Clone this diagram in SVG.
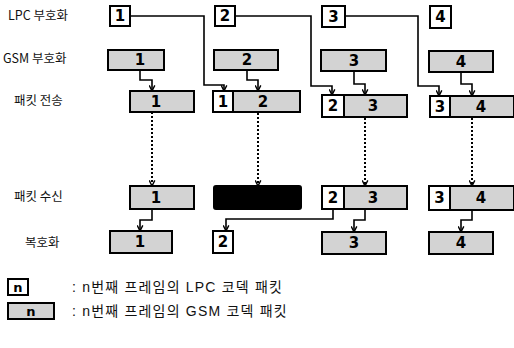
<svg xmlns="http://www.w3.org/2000/svg" width="514" height="348" viewBox="0 0 514 348">
<defs>
<style>
.lbl{font-family:"Noto Sans CJK KR","Liberation Sans",sans-serif;font-size:12.5px;fill:#111;}
.leg{font-family:"Liberation Sans","Noto Sans CJK KR",sans-serif;font-size:14px;letter-spacing:1.2px;fill:#111;}
.num{font-family:"DejaVu Sans","Liberation Sans",sans-serif;font-weight:bold;font-size:15px;fill:#000;text-anchor:middle;dominant-baseline:central;}
.lpc{fill:#fff;stroke:#000;stroke-width:2;}
.gsm{fill:#d3d3d3;stroke:#000;stroke-width:2;}
.lost{fill:#000;stroke:#000;stroke-width:2;}
.c{fill:none;stroke:#000;stroke-width:1.6;marker-end:url(#ah);}
.d{fill:none;stroke:#000;stroke-width:2;stroke-dasharray:2 2;marker-end:url(#ah);}
</style>
<marker id="ah" viewBox="0 0 10 10" refX="9" refY="5" markerWidth="7" markerHeight="7" orient="auto" markerUnits="userSpaceOnUse">
<path d="M1,1 L9,5 L1,9" fill="none" stroke="#000" stroke-width="2"/>
</marker>
</defs>

<g id="labels">
<text class="lbl" x="8" y="20">LPC 부호화</text>
<text class="lbl" x="3" y="63">GSM 부호화</text>
<text class="lbl" x="14" y="105">패킷 전송</text>
<text class="lbl" x="14" y="201">패킷 수신</text>
<text class="lbl" x="25" y="247">복호화</text>
</g>

<g id="connectors">
<path class="c" d="M140,70 V80 H152 V91"/>
<path class="c" d="M130,16 H204 V85 H224 V91"/>
<path class="c" d="M247,70 V80 H258 V91"/>
<path class="c" d="M235,16 H311 V86 H332 V95"/>
<path class="c" d="M354,71 V84 H365 V95"/>
<path class="c" d="M345,16 H418 V86 H439 V96"/>
<path class="c" d="M461,72 V84 H472 V96"/>
<path class="d" d="M152,112 V186"/>
<path class="d" d="M258,113 V186"/>
<path class="d" d="M365,118 V186"/>
<path class="d" d="M472,118 V186"/>
<path class="c" d="M152,209 V220 H140 V231"/>
<path class="c" d="M333,209 V219 H226 V231"/>
<path class="c" d="M365,209 V220 H354 V232"/>
<path class="c" d="M472,210 V220 H461 V232"/>
</g>

<g id="lpc1"><rect class="lpc" x="110" y="6" width="20" height="20"/><text class="num" x="120" y="16">1</text></g>
<g id="lpc2"><rect class="lpc" x="215" y="6" width="20" height="20"/><text class="num" x="225" y="16">2</text></g>
<g id="lpc3"><rect class="lpc" x="322" y="6" width="23" height="21"/><text class="num" x="333.5" y="16.5">3</text></g>
<g id="lpc4"><rect class="lpc" x="430" y="6" width="21" height="22"/><text class="num" x="440.5" y="17">4</text></g>

<g id="gsm1"><rect class="gsm" x="108" y="50" width="56" height="20"/><text class="num" x="140" y="60">1</text></g>
<g id="gsm2"><rect class="gsm" x="214" y="50" width="64" height="20"/><text class="num" x="247" y="60">2</text></g>
<g id="gsm3"><rect class="gsm" x="321" y="50" width="65" height="21"/><text class="num" x="354" y="60.5">3</text></g>
<g id="gsm4"><rect class="gsm" x="429" y="51" width="64" height="21"/><text class="num" x="461" y="61.5">4</text></g>

<g id="tx1"><rect class="gsm" x="130" y="91" width="64" height="21"/><text class="num" x="156" y="101.5">1</text></g>
<g id="tx2"><rect class="gsm" x="233" y="91" width="67" height="21"/><rect class="lpc" x="213" y="91" width="20" height="21"/><text class="num" x="223" y="101.5">1</text><text class="num" x="263" y="101.5">2</text></g>
<g id="tx3"><rect class="gsm" x="344" y="95" width="63" height="22"/><rect class="lpc" x="322" y="95" width="22" height="22"/><text class="num" x="333" y="106">2</text><text class="num" x="373" y="106">3</text></g>
<g id="tx4"><rect class="gsm" x="450" y="96" width="64" height="21"/><rect class="lpc" x="430" y="96" width="20" height="21"/><text class="num" x="440" y="106.5">3</text><text class="num" x="481" y="106.5">4</text></g>

<g id="rx1"><rect class="gsm" x="130" y="186" width="64" height="23"/><text class="num" x="156" y="197.5">1</text></g>
<g id="rx2"><rect class="lost" x="214" y="186" width="87" height="23" rx="2"/></g>
<g id="rx3"><rect class="gsm" x="344" y="186" width="63" height="23"/><rect class="lpc" x="322" y="186" width="22" height="23"/><text class="num" x="333" y="197.5">2</text><text class="num" x="373" y="197.5">3</text></g>
<g id="rx4"><rect class="gsm" x="450" y="186" width="64" height="24"/><rect class="lpc" x="429" y="186" width="21" height="24"/><text class="num" x="439.5" y="198">3</text><text class="num" x="481" y="198">4</text></g>

<g id="dec1"><rect class="gsm" x="110" y="231" width="62" height="22"/><text class="num" x="140" y="242">1</text></g>
<g id="dec2"><rect class="lpc" x="213" y="231" width="20" height="22"/><text class="num" x="223" y="242">2</text></g>
<g id="dec3"><rect class="gsm" x="322" y="232" width="64" height="22"/><text class="num" x="354" y="243">3</text></g>
<g id="dec4"><rect class="gsm" x="429" y="232" width="64" height="22"/><text class="num" x="461" y="243">4</text></g>

<g id="legend">
<rect class="lpc" x="8" y="279" width="20" height="16"/><text class="num" x="18" y="287" style="font-size:13px">n</text>
<text class="leg" x="72" y="292">: n번째 프레임의 LPC 코덱 패킷</text>
<rect class="gsm" x="8" y="303" width="46" height="16"/><text class="num" x="31" y="311" style="font-size:13px">n</text>
<text class="leg" x="72" y="316">: n번째 프레임의 GSM 코덱 패킷</text>
</g>
</svg>
